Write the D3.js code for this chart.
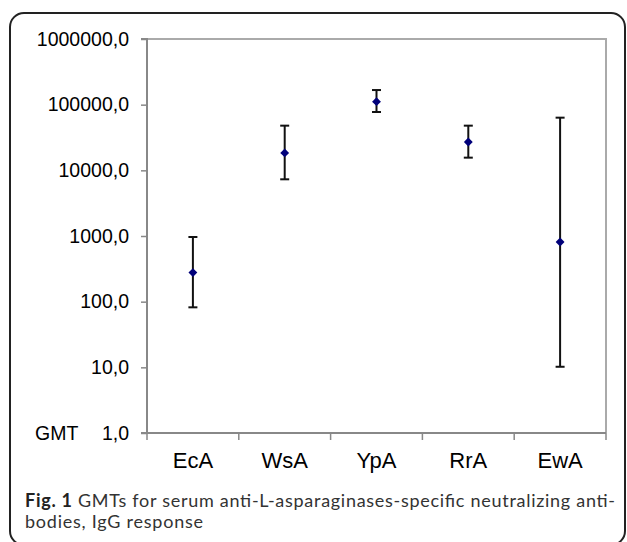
<!DOCTYPE html>
<html><head><meta charset="utf-8">
<script src="https://cdn.jsdelivr.net/npm/d3@7"></script>
<style>html,body{margin:0;padding:0;background:#fff;}svg{display:block;}</style>
</head><body>
<svg id="c" width="627" height="542"></svg>
<script>
const categories = ["EcA", "WsA", "YpA", "RrA", "EwA"];
const gmt = [277, 18400, 111000, 27000, 810];
const upper = [966, 47900, 167000, 47900, 63400];
const lower = [82, 7300, 77300, 15600, 10.2];
const yTicks = [1, 10, 100, 1000, 10000, 100000, 1000000];
const yTickLabels = ["1,0", "10,0", "100,0", "1000,0", "10000,0", "100000,0", "1000000,0"];

const svg = d3.select("#c");
// outer rounded frame
svg.append("rect").attr("x", 10).attr("y", 13).attr("width", 615).attr("height", 532)
  .attr("rx", 14).attr("ry", 14).attr("fill", "none").attr("stroke", "#222").attr("stroke-width", 2);

const L = 147, R = 606, T = 39, B = 433;
const x = d3.scaleBand().domain(categories).range([L, R]);
const y = d3.scaleLog().domain([1, 1000000]).range([B, T]);

// plot frame top/right
svg.append("path").attr("d", `M${L},${T}H${R}V${B}`).attr("fill", "none")
  .attr("stroke", "#aaa").attr("stroke-width", 2);

// y axis
const yAxis = d3.axisLeft(y).tickValues(yTicks).tickFormat((d, i) => yTickLabels[i])
  .tickSize(6).tickPadding(12);
const gy = svg.append("g").attr("transform", `translate(${L},0)`).call(yAxis);
gy.select(".domain").attr("stroke", "#888").attr("stroke-width", 2).attr("d", `M-6,${T}H0V${B}`);
gy.selectAll(".tick line").attr("stroke", "#888").attr("stroke-width", 1.5);
gy.selectAll(".tick text").attr("font-family", "Liberation Sans, Arial, sans-serif")
  .attr("font-size", 19.5).attr("fill", "#000");

// x axis
const gx = svg.append("g").attr("transform", `translate(0,${B})`);
gx.append("line").attr("x1", L - 6).attr("x2", R).attr("y1", 0).attr("y2", 0)
  .attr("stroke", "#888").attr("stroke-width", 2);
const bounds = categories.map(c => x(c)).concat([R]);
gx.selectAll("line.t").data(bounds).join("line").attr("class", "t")
  .attr("x1", d => d).attr("x2", d => d).attr("y1", 0).attr("y2", 7)
  .attr("stroke", "#888").attr("stroke-width", 1.5);
gx.selectAll("text").data(categories).join("text")
  .attr("x", d => x(d) + x.bandwidth() / 2).attr("y", 35)
  .attr("text-anchor", "middle").attr("font-family", "Liberation Sans, Arial, sans-serif")
  .attr("font-size", 22).attr("fill", "#000").text(d => d);

// GMT label
svg.append("text").attr("x", 35).attr("y", B + 7).attr("font-family", "Liberation Sans, Arial, sans-serif")
  .attr("font-size", 19.5).attr("fill", "#000").text("GMT");

// error bars
const cx = d => x(d) + x.bandwidth() / 2;
const g = svg.append("g");
categories.forEach((c, i) => {
  const xc = cx(c);
  g.append("line").attr("x1", xc).attr("x2", xc).attr("y1", y(lower[i])).attr("y2", y(upper[i]))
    .attr("stroke", "#111").attr("stroke-width", 2);
  [lower[i], upper[i]].forEach(v => {
    g.append("line").attr("x1", xc - 4.5).attr("x2", xc + 4.5).attr("y1", y(v)).attr("y2", y(v))
      .attr("stroke", "#111").attr("stroke-width", 2);
  });
  g.append("path").attr("d", d3.symbol().type(d3.symbolDiamond2).size(50)())
    .attr("transform", `translate(${xc},${y(gmt[i])})`).attr("fill", "#00007a");
});

// caption
const cap = svg.append("text").attr("x", 25).attr("y", 507)
  .attr("font-family", "Lato, Open Sans, sans-serif").attr("font-size", 18).attr("fill", "#333")
  .attr("textLength", 590).attr("lengthAdjust", "spacing");
cap.append("tspan").attr("font-weight", "bold").attr("fill", "#222").text("Fig. 1");
cap.append("tspan").text(" GMTs for serum anti-L-asparaginases-specific neutralizing anti-");
svg.append("text").attr("x", 25).attr("y", 528)
  .attr("font-family", "Lato, Open Sans, sans-serif").attr("font-size", 18).attr("fill", "#333")
  .attr("textLength", 178).attr("lengthAdjust", "spacing")
  .text("bodies, IgG response");
</script>
</body></html>
